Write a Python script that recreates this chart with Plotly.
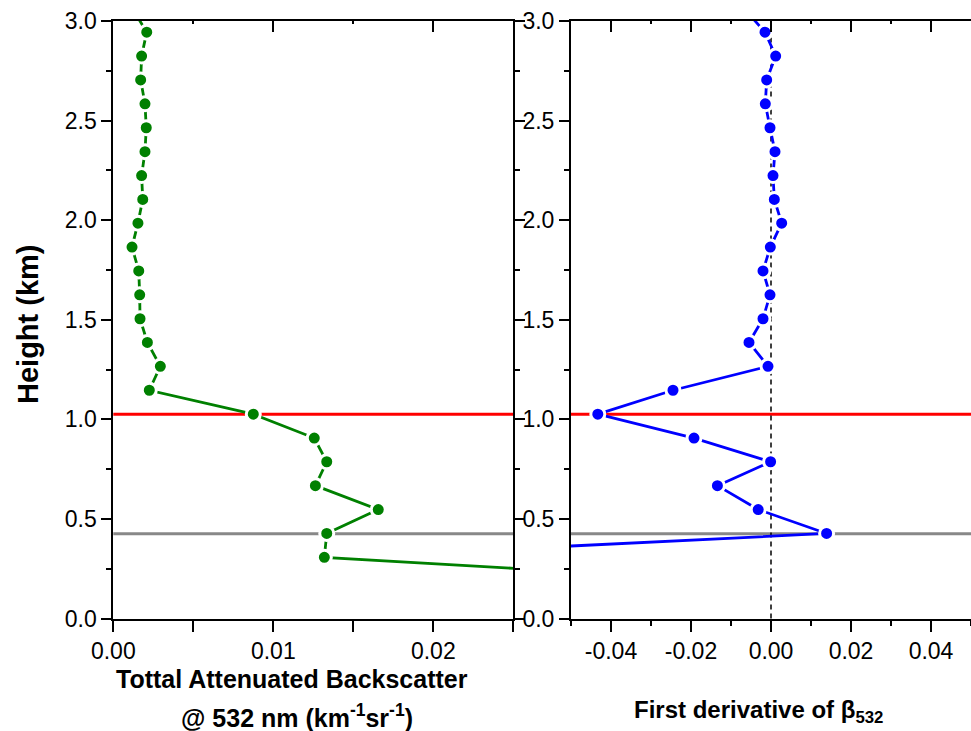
import plotly.graph_objects as go

# ---------------- data ----------------
heights = [0.187, 0.307, 0.427, 0.547, 0.667, 0.787, 0.906, 1.026, 1.146, 1.266,
           1.386, 1.505, 1.625, 1.745, 1.865, 1.985, 2.104, 2.224, 2.344, 2.464,
           2.584, 2.704, 2.824, 2.944, 3.064]
beta532 = [0.0390, 0.01319, 0.01334, 0.01656, 0.01263, 0.01334, 0.01256, 0.00875,
           0.00225, 0.00294, 0.00213, 0.00167, 0.00165, 0.00159, 0.00117, 0.00154,
           0.00184, 0.00177, 0.00198, 0.00206, 0.00198, 0.00171, 0.00177, 0.00209,
           0.00118]
deriv532 = [None, -0.108, 0.0139, -0.0032, -0.0134, -0.0001, -0.01925, -0.0433,
            -0.0245, -0.00075, -0.0055, -0.0020, -0.00025, -0.0020, -0.00017,
            0.00267, 0.00083, 0.0005, 0.0010, -0.00025, -0.00142, -0.00108,
            0.00117, -0.0015, -0.0068]
top_layer_km = 1.026   # red line
base_layer_km = 0.425  # grey line

left_xticks = [0.0, 0.01, 0.02]
left_xtext = ["0.00", "0.01", "0.02"]
left_xminor = [0.005, 0.015, 0.025]
right_xticks = [-0.04, -0.02, 0.0, 0.02, 0.04]
right_xtext = ["-0.04", "-0.02", "0.00", "0.02", "0.04"]
right_xminor = [-0.05, -0.03, -0.01, 0.01, 0.03, 0.05]
yticks = [0.0, 0.5, 1.0, 1.5, 2.0, 2.5, 3.0]
yminor = [0.25, 0.75, 1.25, 1.75, 2.25, 2.75]

W, H = 971, 731
FONT = "Liberation Sans, Arial, sans-serif"

def px(x):
    return x / W

def py(y):
    return 1 - y / H

fig = go.Figure()

fig.add_trace(go.Scatter(
    x=beta532, y=heights, xaxis="x", yaxis="y", mode="lines+markers",
    line=dict(color="#008000", width=2.8),
    marker=dict(color="#008000", size=14, line=dict(color="white", width=3)),
    showlegend=False))

fig.add_trace(go.Scatter(
    x=deriv532, y=heights, xaxis="x2", yaxis="y2", mode="lines+markers",
    line=dict(color="#0000ff", width=2.8),
    marker=dict(color="#0000ff", size=14, line=dict(color="white", width=3)),
    showlegend=False))

# horizontal reference lines in each panel
for xr, yr in (("x domain", "y"), ("x2 domain", "y2")):
    fig.add_shape(type="line", xref=xr, yref=yr, x0=0, x1=1,
                  y0=top_layer_km, y1=top_layer_km,
                  line=dict(color="#ff0000", width=3), layer="below")
    fig.add_shape(type="line", xref=xr, yref=yr, x0=0, x1=1,
                  y0=base_layer_km, y1=base_layer_km,
                  line=dict(color="#888888", width=3), layer="below")
# vertical zero line in derivative panel
fig.add_shape(type="line", xref="x2", yref="y2 domain", x0=0, x1=0, y0=0, y1=1,
              line=dict(color="black", width=1.5, dash="5px,4px"), layer="below")

dom_y = [py(618.5), py(21)]
dom_x1 = [px(113.3), px(513.3)]
dom_x2 = [px(571), 1.0]

common_axis = dict(showline=True, linecolor="black", linewidth=2,
                   showgrid=False, zeroline=False, tickcolor="black",
                   tickwidth=2, automargin=False,
                   tickfont=dict(family=FONT, size=23, color="black"))

fig.update_layout(
    width=W, height=H,
    margin=dict(l=0, r=0, t=0, b=0, pad=0, autoexpand=False),
    paper_bgcolor="white", plot_bgcolor="white",
    xaxis=dict(domain=dom_x1, range=[0, 0.025], anchor="y",
               tickvals=left_xticks, ticktext=left_xtext,
               ticks="outside", ticklen=11, mirror=True,
               minor=dict(tickvals=left_xminor, ticks="outside", ticklen=11,
                          tickwidth=2, tickcolor="black", showgrid=False),
               **common_axis),
    xaxis3=dict(overlaying="x", side="top", range=[0, 0.025], anchor="y",
                tickvals=[0.01, 0.02], ticks="inside", ticklen=11, tickwidth=2,
                tickcolor="black", showticklabels=False, showline=False,
                showgrid=False, zeroline=False, automargin=False,
                minor=dict(tickvals=[0.005, 0.015], ticks="inside", ticklen=3,
                           tickwidth=2, tickcolor="black", showgrid=False)),
    yaxis=dict(domain=dom_y, range=[0, 3], anchor="x",
               tickvals=yticks, ticktext=[f"{v:.1f}" for v in yticks],
               ticks="outside", ticklen=10, mirror="ticks",
               minor=dict(tickvals=yminor, ticks="outside", ticklen=5,
                          tickwidth=2, tickcolor="black", showgrid=False),
               **common_axis),
    xaxis2=dict(domain=dom_x2, range=[-0.05, 0.05], anchor="y2",
                tickvals=right_xticks, ticktext=right_xtext,
                ticks="outside", ticklen=11, mirror=True,
                minor=dict(tickvals=right_xminor, ticks="outside", ticklen=5,
                           tickwidth=2, tickcolor="black", showgrid=False),
                **common_axis),
    xaxis4=dict(overlaying="x2", side="top", range=[-0.05, 0.05], anchor="y2",
                tickvals=right_xticks, ticks="inside", ticklen=11, tickwidth=2,
                tickcolor="black", showticklabels=False, showline=False,
                showgrid=False, zeroline=False, automargin=False,
                minor=dict(tickvals=right_xminor, ticks="inside", ticklen=3,
                           tickwidth=2, tickcolor="black", showgrid=False)),
    yaxis2=dict(domain=dom_y, range=[0, 3], anchor="x2",
                tickvals=yticks, ticktext=[f"{v:.1f}" for v in yticks],
                ticks="outside", ticklen=10, mirror=True,
                minor=dict(tickvals=yminor, ticks="outside", ticklen=5,
                           tickwidth=2, tickcolor="black", showgrid=False),
                **common_axis),
)

# dummy traces so the top overlay axes are drawn
fig.add_trace(go.Scatter(x=[None], y=[None], xaxis="x3", yaxis="y",
                         showlegend=False, hoverinfo="skip"))
fig.add_trace(go.Scatter(x=[None], y=[None], xaxis="x4", yaxis="y2",
                         showlegend=False, hoverinfo="skip"))

tfont = dict(family=FONT, size=25, color="black")
fig.add_annotation(x=px(292), y=py(679), xref="paper", yref="paper",
                   text="<b>Tottal Attenuated Backscatter</b>", showarrow=False,
                   xanchor="center", yanchor="middle", font=tfont)
fig.add_annotation(x=px(297), y=py(716), xref="paper", yref="paper",
                   text="<b>@ 532 nm (km<sup>-1</sup>sr<sup>-1</sup>)</b>",
                   showarrow=False, xanchor="center", yanchor="middle", font=tfont)
fig.add_annotation(x=px(758), y=py(711), xref="paper", yref="paper",
                   text="<b>First derivative of β<sub>532</sub></b>",
                   showarrow=False, xanchor="center", yanchor="middle",
                   font=dict(family=FONT, size=24, color="black"))
fig.add_annotation(x=px(28), y=py(324), xref="paper", yref="paper",
                   text="<b>Height (km)</b>", textangle=-90, showarrow=False,
                   xanchor="center", yanchor="middle",
                   font=dict(family=FONT, size=29, color="black"))

fig.write_html("out.html")
